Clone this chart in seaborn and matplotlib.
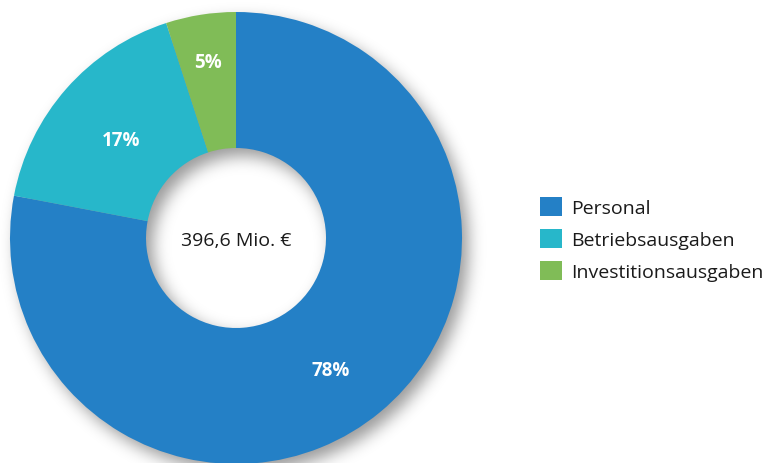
import numpy as np
import matplotlib
matplotlib.use("Agg")
import matplotlib.pyplot as plt
from matplotlib.patches import Patch
import seaborn as sns

# Budget breakdown
categories = ["Personal", "Betriebsausgaben", "Investitionsausgaben"]
shares = [78, 17, 5]
total_label = "396,6 Mio. €"
colors = ["#2480C6", "#27B7CA", "#80BC57"]

sns.set_theme(style="white")
plt.rcParams["font.family"] = ["Open Sans", "DejaVu Sans"]

W, H = 765, 464
fig = plt.figure(figsize=(W / 100, H / 100), dpi=100)

# donut geometry in pixels
cx, cy, R = 236, H - 239, 226
r_in = 90 / R
lim = 1.15
half = lim * R
ax = fig.add_axes([(cx - half) / W, (cy - half) / H, 2 * half / W, 2 * half / H])

# soft drop shadow of the ring, offset to the lower right
n = 600
g = np.linspace(-lim, lim, n)
xx, yy = np.meshgrid(g, g)
dx, dy = 0.03, -0.035
rr = np.hypot(xx - dx, yy - dy)
mask = ((rr <= 1.0) & (rr >= r_in)).astype(float)
sigma = 0.035 / (g[1] - g[0])
k = np.arange(-int(4 * sigma), int(4 * sigma) + 1)
kern = np.exp(-0.5 * (k / sigma) ** 2)
kern /= kern.sum()
blur = np.apply_along_axis(lambda v: np.convolve(v, kern, mode="same"), 0, mask)
blur = np.apply_along_axis(lambda v: np.convolve(v, kern, mode="same"), 1, blur)
shadow = np.zeros((n, n, 4))
shadow[..., 3] = blur * 0.4
ax.imshow(shadow, extent=(-lim, lim, -lim, lim), origin="lower",
          interpolation="bilinear", zorder=0)

wedges, _, autotexts = ax.pie(
    shares, colors=colors, startangle=90, counterclock=False, radius=1.0,
    wedgeprops=dict(width=1 - r_in, linewidth=0),
    autopct=lambda p: f"{p:.0f}%", pctdistance=0.7,
    textprops=dict(color="white", fontsize=13.5, fontweight="bold"),
)
for w in wedges:
    w.set_zorder(2)

# per-slice label radius and small angular nudge (degrees)
label_r = [0.72, 0.67, 0.79]
label_da = [-4, 1, 0]
for t, w, lr, da in zip(autotexts, wedges, label_r, label_da):
    ang = np.deg2rad((w.theta1 + w.theta2) / 2 + da)
    t.set_position((lr * np.cos(ang), lr * np.sin(ang)))
    t.set_zorder(3)

ax.text(0, -0.01, total_label, ha="center", va="center", fontsize=14,
        color="#1a1a1a", zorder=3)

ax.set_xlim(-lim, lim)
ax.set_ylim(-lim, lim)
ax.set_aspect("equal")
ax.axis("off")

handles = [Patch(facecolor=c, edgecolor="none") for c in colors]
fig.legend(handles, categories, loc="center left",
           bbox_to_anchor=(540 / W, (H - 240) / H), frameon=False,
           fontsize=14, handlelength=1.15, handleheight=1.15,
           handletextpad=0.45, labelspacing=0.62, borderpad=0, borderaxespad=0,
           labelcolor="#1a1a1a")

fig.savefig("out.png", dpi=100)
